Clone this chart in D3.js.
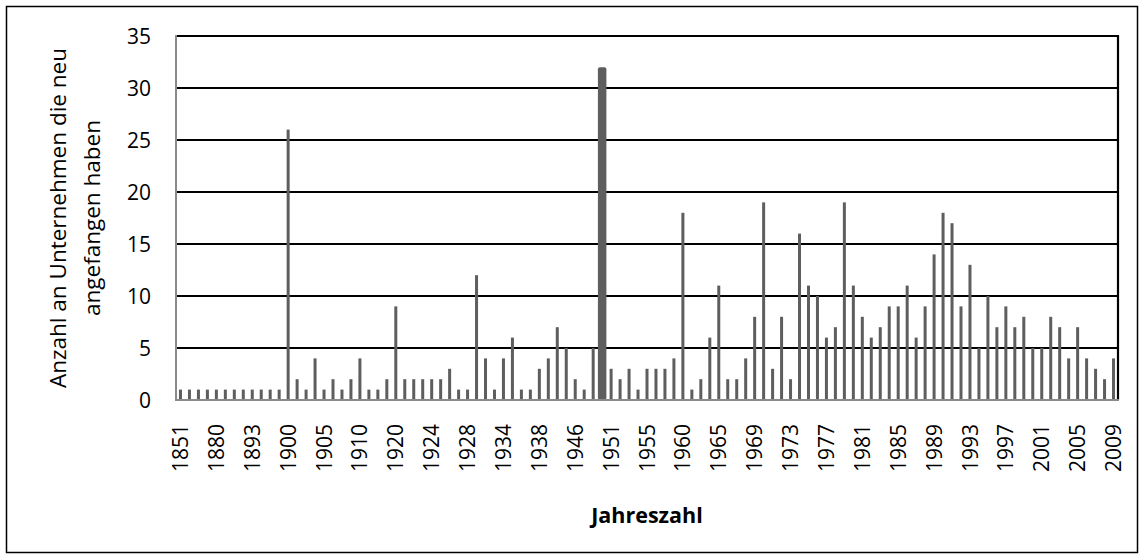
<!DOCTYPE html>
<html>
<head>
<meta charset="utf-8">
<script src="https://cdn.jsdelivr.net/npm/d3@7"></script>
<style>
  html, body { margin: 0; padding: 0; background: #fff; }
  svg text { font-family: "Open Sans", Lato, sans-serif; fill: #000; }
</style>
</head>
<body>
<svg id="chart" width="1141" height="560"></svg>
<script>
// categories (years with founded companies), 105 entries
const years = [
  1851, 1860, 1870, 1875, 1880, 1882, 1885, 1890, 1893, 1895, 1897, 1898,
  1900, 1901, 1902, 1903, 1905, 1906, 1907, 1908, 1910, 1912, 1914, 1919,
  1920, 1921, 1922, 1923, 1924, 1925, 1926, 1927, 1928, 1929, 1930, 1932,
  1934, 1935, 1936, 1937, 1938, 1939, 1940, 1945, 1946, 1948, 1949, 1950,
  1951, 1952, 1953, 1954, 1955, 1956, 1957, 1958, 1960, 1961, 1963, 1964,
  1965, 1966, 1967, 1968, 1969, 1970, 1971, 1972, 1973, 1974, 1975, 1976,
  1977, 1978, 1979, 1980, 1981, 1982, 1983, 1984, 1985, 1986, 1987, 1988,
  1989, 1990, 1991, 1992, 1993, 1994, 1995, 1996, 1997, 1998, 1999, 2000,
  2001, 2002, 2003, 2004, 2005, 2006, 2007, 2008, 2009
];

// number of companies that started in that year
const counts = [
  1, 1, 1, 1, 1, 1, 1, 1, 1, 1, 1, 1,
  26, 2, 1, 4, 1, 2, 1, 2, 4, 1, 1, 2,
  9, 2, 2, 2, 2, 2, 3, 1, 1, 12, 4, 1,
  4, 6, 1, 1, 3, 4, 7, 5, 2, 1, 5, 32,
  3, 2, 3, 1, 3, 3, 3, 4, 18, 1, 2, 6,
  11, 2, 2, 4, 8, 19, 3, 8, 2, 16, 11, 10,
  6, 7, 19, 11, 8, 6, 7, 9, 9, 11, 6, 9,
  14, 18, 17, 9, 13, 5, 10, 7, 9, 7, 8, 5,
  5, 8, 7, 4, 7, 4, 3, 2, 4
];

const yTicks = [0, 5, 10, 15, 20, 25, 30, 35];
const yTitle = ["Anzahl an Unternehmen die neu", "angefangen haben"];
const xTitle = "Jahreszahl";

const data = years.map((y, i) => ({ i, year: y, value: counts[i] }));

const svg = d3.select("#chart");
const plot = { left: 176, right: 1118, top: 36, bottom: 400 };

const x = d3.scaleBand()
  .domain(data.map(d => d.i))
  .range([plot.left, plot.right]);

const y = d3.scaleLinear()
  .domain([0, 35])
  .range([plot.bottom, plot.top]);

// outer chart border
svg.append("rect")
  .attr("x", 6.5).attr("y", 6.5)
  .attr("width", 1131).attr("height", 546)
  .attr("fill", "#fff")
  .attr("stroke", "#000")
  .attr("stroke-width", 1.5);

// gridlines
svg.append("g")
  .selectAll("line")
  .data(yTicks.filter(t => t > 0))
  .join("line")
  .attr("x1", plot.left).attr("x2", plot.right)
  .attr("y1", d => y(d)).attr("y2", d => y(d))
  .attr("stroke", "#000")
  .attr("stroke-width", 2.2);

// right border of the plot
svg.append("line")
  .attr("x1", plot.right).attr("x2", plot.right)
  .attr("y1", plot.top - 1).attr("y2", plot.bottom)
  .attr("stroke", "#000")
  .attr("stroke-width", 2.2);

// bars (the peak year is drawn wider like in the original)
const peak = d3.max(counts);
const barW = d => (d.value === peak ? 8.5 : 3);
svg.append("g")
  .selectAll("rect")
  .data(data)
  .join("rect")
  .attr("x", d => x(d.i) + x.bandwidth() / 2 - barW(d) / 2)
  .attr("width", barW)
  .attr("y", d => y(d.value))
  .attr("height", d => y(0) - y(d.value))
  .attr("rx", d => (d.value === peak ? 2 : 0))
  .attr("fill", "#5e5e5e");

// axes lines (grey)
svg.append("line")
  .attr("x1", plot.left).attr("x2", plot.left)
  .attr("y1", plot.top - 1).attr("y2", plot.bottom + 1)
  .attr("stroke", "#8a8a8a").attr("stroke-width", 2);
svg.append("line")
  .attr("x1", plot.left - 1).attr("x2", plot.right + 1)
  .attr("y1", plot.bottom).attr("y2", plot.bottom)
  .attr("stroke", "#8a8a8a").attr("stroke-width", 2);

// y tick labels
svg.append("g")
  .selectAll("text")
  .data(yTicks)
  .join("text")
  .attr("x", 151)
  .attr("y", d => y(d))
  .attr("dy", "0.36em")
  .attr("text-anchor", "end")
  .attr("font-size", 21)
  .text(d => d);

// x tick labels, every 4th category, rotated
svg.append("g")
  .selectAll("text")
  .data(data.filter(d => d.i % 4 === 0))
  .join("text")
  .attr("transform", d => `translate(${x(d.i) + x.bandwidth() / 2},${424}) rotate(-90)`)
  .attr("dy", "0.36em")
  .attr("text-anchor", "end")
  .attr("font-size", 21)
  .text(d => d.year);

// y title
const yt = svg.append("text")
  .attr("transform", `translate(0,218) rotate(-90)`)
  .attr("text-anchor", "middle")
  .attr("font-size", 22.5);
yt.selectAll("tspan")
  .data(yTitle)
  .join("tspan")
  .attr("x", 0)
  .attr("y", (d, i) => 66 + i * 34)
  .text(d => d);

// x title
svg.append("text")
  .attr("x", (plot.left + plot.right) / 2)
  .attr("y", 523)
  .attr("text-anchor", "middle")
  .attr("font-size", 21.5)
  .attr("font-weight", "bold")
  .text(xTitle);
</script>
</body>
</html>
